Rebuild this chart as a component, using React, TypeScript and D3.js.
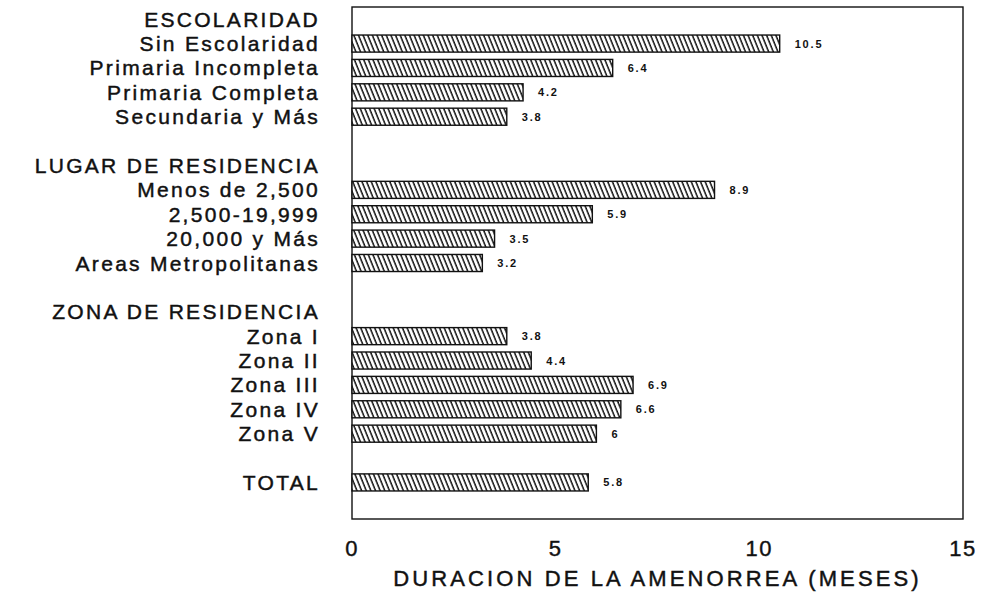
import React from "react";
import * as d3 from "d3";

const rowLabels: string[] = [
  "ESCOLARIDAD",
  "Sin Escolaridad",
  "Primaria Incompleta",
  "Primaria Completa",
  "Secundaria y Más",
  "",
  "LUGAR DE RESIDENCIA",
  "Menos de 2,500",
  "2,500-19,999",
  "20,000 y Más",
  "Areas Metropolitanas",
  "",
  "ZONA DE RESIDENCIA",
  "Zona I",
  "Zona II",
  "Zona III",
  "Zona IV",
  "Zona V",
  "",
  "TOTAL",
  "",
];

const rowValues: (number | null)[] = [
  null, 10.5, 6.4, 4.2, 3.8, null,
  null, 8.9, 5.9, 3.5, 3.2, null,
  null, 3.8, 4.4, 6.9, 6.6, 6.0, null,
  5.8, null,
];

const xTicks: number[] = [0, 5, 10, 15];
const xTitle = "DURACION DE LA AMENORREA (MESES)";

const W = 983;
const H = 594;
const box = { left: 352, right: 963, top: 7, bottom: 519 };
const FONT = "'Liberation Sans', Arial, Helvetica, sans-serif";

export default function App() {
  const x = d3.scaleLinear().domain([0, 15]).range([box.left, box.right]);
  const y = d3
    .scaleBand<number>()
    .domain(rowLabels.map((_, i) => i))
    .range([box.top, box.bottom])
    .paddingInner(0.3)
    .paddingOuter(0.15);
  const bw = y.bandwidth();

  return (
    <svg
      width={W}
      height={H}
      style={{ position: "absolute", left: 0, top: 0, background: "#fff" }}
      fontFamily={FONT}
    >
      <defs>
        <pattern
          id="hatch"
          patternUnits="userSpaceOnUse"
          width={4.3}
          height={8}
          patternTransform="rotate(-22)"
        >
          <rect width={4.3} height={8} fill="#fff" />
          <line x1={1} y1={0} x2={1} y2={8} stroke="#111" strokeWidth={1.5} />
        </pattern>
      </defs>
      <rect x={0} y={0} width={W} height={H} fill="#fff" />
      <rect
        x={box.left}
        y={box.top}
        width={box.right - box.left}
        height={box.bottom - box.top}
        fill="none"
        stroke="#111"
        strokeWidth={1.4}
      />
      {rowLabels.map((lab, i) =>
        lab ? (
          <text
            key={"l" + i}
            x={320}
            y={(y(i) as number) + bw / 2 + 7.5}
            textAnchor="end"
            fontSize={21}
            letterSpacing={2.3}
            fill="#111"
            stroke="#111"
            strokeWidth={0.45}
          >
            {lab}
          </text>
        ) : null
      )}
      {rowValues.map((v, i) =>
        v == null ? null : (
          <g key={"b" + i}>
            <rect
              x={x(0)}
              y={y(i) as number}
              width={x(v) - x(0)}
              height={bw}
              fill="url(#hatch)"
              stroke="#111"
              strokeWidth={1.4}
            />
            <text
              x={x(v) + 15}
              y={(y(i) as number) + bw / 2 + 4}
              fontSize={11}
              fontWeight="bold"
              letterSpacing={1.8}
              fill="#111"
            >
              {String(v)}
            </text>
          </g>
        )
      )}
      {xTicks.map((t) => (
        <text
          key={"t" + t}
          x={x(t)}
          y={556}
          textAnchor="middle"
          fontSize={22}
          letterSpacing={1.5}
          fill="#111"
          stroke="#111"
          strokeWidth={0.4}
        >
          {t}
        </text>
      ))}
      <text
        x={(box.left + box.right) / 2}
        y={586}
        textAnchor="middle"
        fontSize={22}
        letterSpacing={3.1}
        fill="#111"
        stroke="#111"
        strokeWidth={0.45}
      >
        {xTitle}
      </text>
    </svg>
  );
}
